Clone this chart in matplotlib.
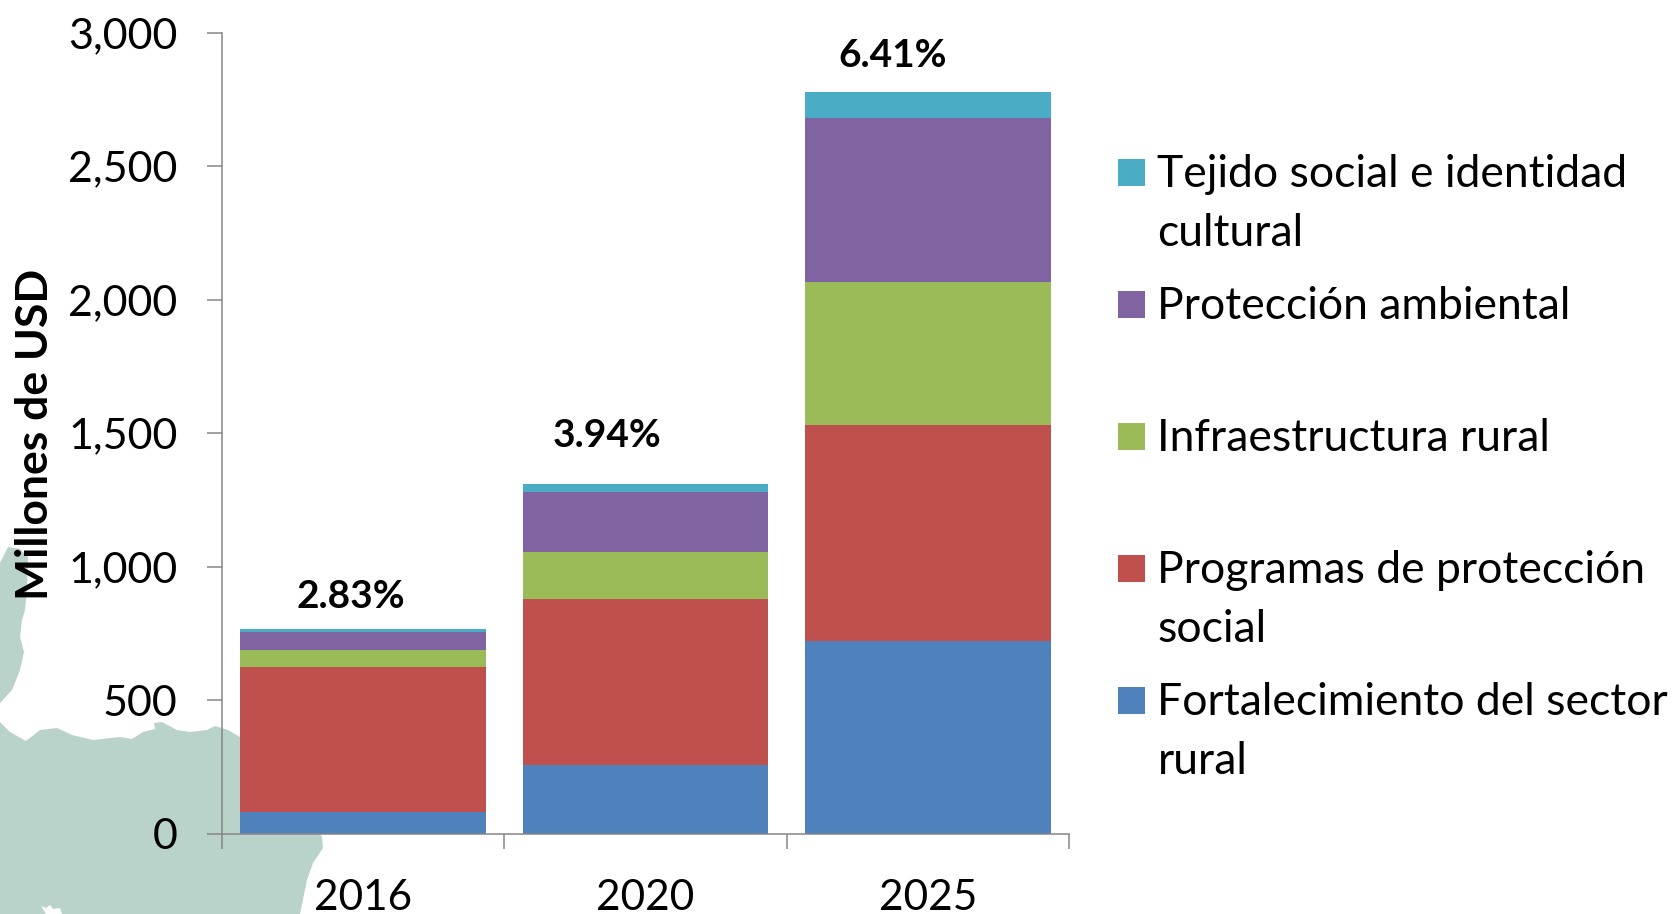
# stacked bars over the faded map background

import matplotlib
matplotlib.use('Agg')
import numpy as np
import matplotlib.pyplot as plt
from matplotlib.patches import Polygon, Rectangle

years = ['2016', '2020', '2025']
series_names = ['Fortalecimiento del sector\nrural',
                'Programas de protección\nsocial',
                'Infraestructura rural',
                'Protección ambiental',
                'Tejido social e identidad\ncultural']
fortalecimiento = [80, 256, 720]
programas = [543, 622, 811]
infraestructura = [65, 175, 536]
ambiental = [68, 227, 614]
tejido = [10, 29, 96]
shares = ['2.83%', '3.94%', '6.41%']
y_ticks = [0, 500, 1000, 1500, 2000, 2500, 3000]

colors = ['#4F81BD', '#C0504D', '#9BBB59', '#8064A2', '#4BACC6']
share_x = [-0.045, 0.863, 1.876]
share_y = [888, 1492, 2915]
legend_y = [700.2, 568.4, 436.6, 304.3, 172.5]  # pixels, from the top

# map outlines, in image pixels
map_north = [(0, 563), (8, 547), (20, 549), (28, 557), (27, 590), (25, 610), (22, 620),
             (20, 637), (24, 652), (20, 670), (12, 690), (0, 703)]
map_south = [(0, 722), (10, 732), (26, 741), (40, 730), (57, 728), (72, 735), (93, 740),
             (120, 737), (132, 739), (143, 732), (155, 729), (154, 723), (162, 722),
             (177, 730), (190, 732), (207, 730), (215, 726), (228, 730), (240, 737),
             (300, 800), (322, 837), (323, 848), (313, 863), (307, 880), (300, 914), (0, 914)]
map_hole = [(41, 906), (46, 914), (62, 914), (60, 908), (53, 909), (50, 905), (46, 908)]

W, H = 1673, 914
plt.rcParams['font.family'] = ['Lato', 'DejaVu Sans']
fig = plt.figure(figsize=(W / 100, H / 100), dpi=100, facecolor='white')

# pixel axes for map and legend
bg = fig.add_axes([0, 0, 1, 1], zorder=0)
bg.set_xlim(0, W)
bg.set_ylim(H, 0)
bg.axis('off')
bg.add_patch(Polygon(map_north, closed=True, fc='#B9D3CA', ec='none'))
bg.add_patch(Polygon(map_south, closed=True, fc='#B9D3CA', ec='none'))
bg.add_patch(Polygon(map_hole, closed=True, fc='white', ec='none'))

for name, c, y in zip(series_names, colors, legend_y):
    bg.add_patch(Rectangle((1118, y - 13.5), 27, 27, fc=c, ec='none'))
    for i, line in enumerate(name.split('\n')):
        bg.text(1157.5, y + 14.5 + i * 59.4, line, fontsize=32, color='black', va='baseline')

# main chart
ax = fig.add_axes([222 / W, 1 - 833.5 / H, (1069 - 222) / W, (833.5 - 32.5) / H], zorder=1)
ax.patch.set_visible(False)

x = np.arange(len(years))
bottom = np.zeros(len(years))
for vals, c in zip([fortalecimiento, programas, infraestructura, ambiental, tejido], colors):
    ax.bar(x, vals, 0.871, bottom=bottom, color=c, linewidth=0)
    bottom += np.array(vals)

for sx, sy, s in zip(share_x, share_y, shares):
    ax.text(sx, sy, s, fontsize=28, fontweight='bold', ha='center', va='center', color='black')

ax.set_xlim(-0.5, 2.5)
ax.set_ylim(0, 3000)
ax.set_yticks(y_ticks)
ax.set_yticklabels(['{:,}'.format(v) for v in y_ticks])
ax.set_xticks([-0.5, 0.5, 1.5, 2.5])
ax.set_xticklabels([])
ax.set_xticks(x, minor=True)
ax.set_xticklabels(years, minor=True)

for side in ['top', 'right']:
    ax.spines[side].set_visible(False)
for side in ['left', 'bottom']:
    ax.spines[side].set_color('#868686')
    ax.spines[side].set_linewidth(1.1)
ax.tick_params(axis='both', which='major', length=11, width=1.1, color='#868686', labelsize=31, pad=21)
ax.tick_params(axis='x', which='minor', length=0, labelsize=30.5, pad=33)

fig.text(35 / W, 1 - 434 / H, 'Millones de USD', fontsize=32, fontweight='bold', rotation=90,
         ha='center', va='center', color='black')

fig.savefig('out.png', dpi=100)
